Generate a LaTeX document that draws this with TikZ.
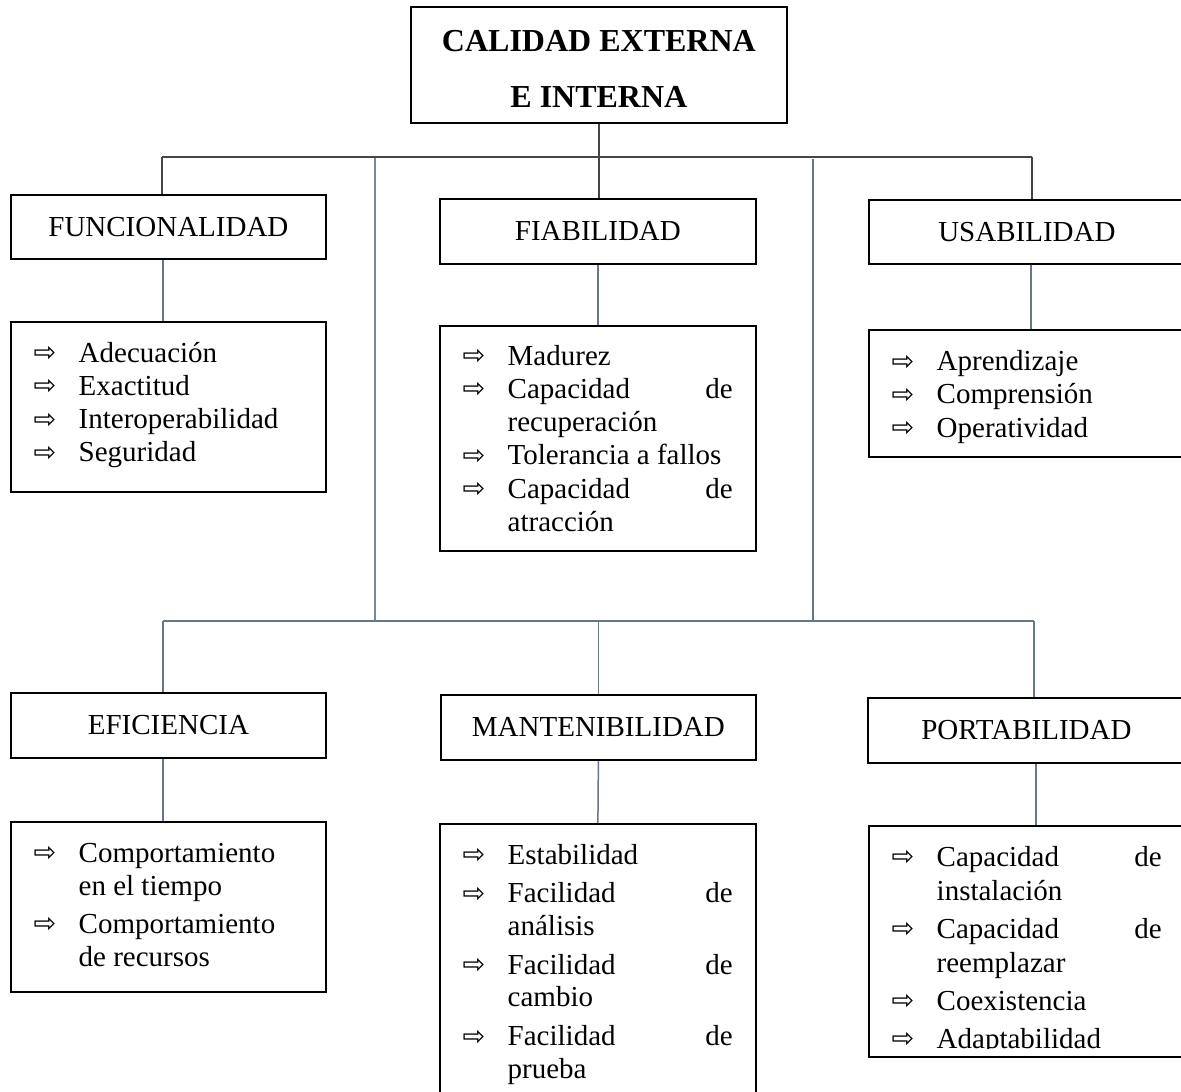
\documentclass[tikz,border=0pt]{standalone}
\usepackage{fontspec}
\setmainfont{Liberation Serif}
\newfontfamily\symfont{DejaVu Sans}
\usetikzlibrary{calc}
\definecolor{darkln}{HTML}{454545}
\definecolor{blueln}{HTML}{66768C}
\definecolor{lightln}{HTML}{7B8696}
\hyphenpenalty=10000
\exhyphenpenalty=10000
\tolerance=10000
\newcommand\arrsym{\makebox[45pt][l]{\raisebox{0.5pt}{\symfont\fontsize{27}{27}\selectfont ⇨}}}
\newcommand\itm[1]{\par\noindent\hangindent=45pt \hangafter=1 \arrsym #1}
\newcommand\lst[2]{\parbox[t]{270pt}{\raggedright\setlength{\parskip}{#1}#2\par}}
\tikzset{
  box/.style={draw=black, line width=1.8pt, inner sep=0pt, anchor=north west,
    font=\fontsize{29}{33.5}\selectfont},
  listtext/.style={anchor=base west, inner sep=0pt,
    font=\fontsize{29}{33.3}\selectfont},
  darkc/.style={draw=darkln, line width=1.5pt},
  bluec/.style={draw=blueln, line width=1.5pt},
  lightc/.style={draw=lightln, line width=1.8pt},
}
\begin{document}
\begin{tikzpicture}[x=1pt,y=-1pt]
\useasboundingbox (0,0) rectangle (1181,1092);
\fill[white] (0,0) rectangle (1181,1092);
\clip (0,0) rectangle (1181,1092);

% boxes
\node[box, minimum width=376pt, minimum height=116pt, align=center,
  font=\fontsize{32}{56}\selectfont\bfseries] (title) at (410,6)
  {\rule{0pt}{28.2pt}CALIDAD EXTERNA\\E INTERNA};
\node[box, minimum width=315pt, minimum height=64pt] (func) at (10,194) {FUNCIONALIDAD};
\node[box, minimum width=316pt, minimum height=65pt] (fiab) at (439,198) {FIABILIDAD};
\node[box, minimum width=316pt, minimum height=64pt] (usab) at (868,199) {USABILIDAD};
\node[box, minimum width=315pt, minimum height=170pt] (funcL) at (10,321) {};
\node[box, minimum width=316pt, minimum height=225pt] (fiabL) at (439,325) {};
\node[box, minimum width=316pt, minimum height=127pt] (usabL) at (868,329) {};
\node[box, minimum width=315pt, minimum height=65pt] (efic) at (10,692) {EFICIENCIA};
\node[box, minimum width=315pt, minimum height=65pt] (mant) at (440,694) {MANTENIBILIDAD};
\node[box, minimum width=317pt, minimum height=65pt] (port) at (867,697) {PORTABILIDAD};
\node[box, minimum width=315pt, minimum height=170pt] (eficL) at (10,821) {};
\node[box, minimum width=316pt, minimum height=300pt] (mantL) at (439,823) {};
\node[box, minimum width=316pt, minimum height=231pt] (portL) at (868,825) {};

% list texts
\node[listtext] (funcT) at ($(funcL.north west)+(23.5,41)$)
  {\lst{0pt}{\itm{Adecuación}\itm{Exactitud}\itm{Interoperabilidad}\itm{Seguridad}}};
\node[listtext] (fiabT) at ($(fiabL.north west)+(23.5,40)$)
  {\lst{0pt}{\itm{Madurez}\itm{Capacidad\hfill de\newline recuperación}\itm{Tolerancia a fallos}\itm{Capacidad\hfill de\newline atracción}}};
\node[listtext] (usabT) at ($(usabL.north west)+(23.5,41.5)$)
  {\lst{0pt}{\itm{Aprendizaje}\itm{Comprensión}\itm{Operatividad}}};
\node[listtext, font=\fontsize{29}{33}\selectfont] (eficT) at ($(eficL.north west)+(23.5,41)$)
  {\lst{5pt}{\itm{Comportamiento\newline en el tiempo}\itm{Comportamiento\newline de recursos}}};
\node[listtext, font=\fontsize{29}{32.7}\selectfont] (mantT) at ($(mantL.north west)+(23.5,41)$)
  {\lst{6pt}{\itm{Estabilidad}\itm{Facilidad\hfill de\newline análisis}\itm{Facilidad\hfill de\newline cambio}\itm{Facilidad\hfill de\newline prueba}}};
\begin{scope}
\clip (portL.north west) rectangle ($(portL.south east)+(0,-9)$);
\node[listtext, font=\fontsize{29}{34}\selectfont] (portT) at ($(portL.north west)+(23.5,41)$)
  {\lst{4pt}{\itm{Capacidad\hfill de\newline instalación}\itm{Capacidad\hfill de\newline reemplazar}\itm{Coexistencia}\itm{Adaptabilidad}}};
\end{scope}

% bus coordinates
\coordinate (tL) at (162,157);
\coordinate (tR) at (1032,157);
\coordinate (bL) at (163,621);
\coordinate (bR) at (1034,621);
\coordinate (v1t) at (375,158);
\coordinate (v1b) at (375,621);
\coordinate (v2t) at (813,159);
\coordinate (v2b) at (813,621);
\coordinate (cf) at (163,0);
\coordinate (cu) at (1031,0);
\coordinate (ce) at (163,0);
\coordinate (cp) at (1036,0);

% connectors top level
\draw[darkc] (title.south) -- (title.south |- fiab.north);
\draw[darkc] (tL) -- (tR);
\draw[darkc] (tL) -- (func.north -| tL);
\draw[darkc] (tR) -- (usab.north -| tR);
\draw[lightc] (v1t) -- (v1b);
\draw[bluec] (v2t) -- (v2b);
\draw[bluec] (bL) -- (bR);
\draw[bluec] (bL) -- (efic.north -| bL);
\draw[bluec] (bL -| mant.north) -- (mant.north);
\draw[bluec] (bR) -- (port.north -| bR);

% header to list connectors
\draw[bluec] (func.south -| cf) -- (funcL.north -| cf);
\draw[bluec] (fiab.south) -- (fiabL.north);
\draw[bluec] (usab.south -| cu) -- (usabL.north -| cu);
\draw[bluec] (efic.south -| ce) -- (eficL.north -| ce);
\draw[bluec] (mant.south) -- (mantL.north);
\draw[bluec] (port.south -| cp) -- (portL.north -| cp);
\end{tikzpicture}
\end{document}
